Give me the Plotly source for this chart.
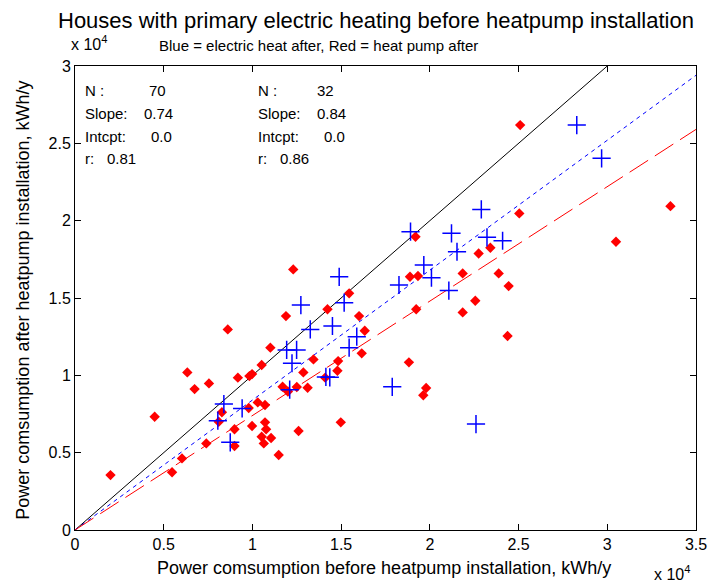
import plotly.graph_objects as go

# ---- data (kWh/y) ----
red_before = [2000, 4490, 5470, 6030, 6330, 6740, 7400, 7550, 8280, 8100, 8610, 8990, 8990, 9180,
              9790, 9830, 9980, 9980, 10300, 10520, 10710, 10710, 10770, 10520, 10640, 11050, 11010,
              11480, 11700, 11890, 12500, 12300, 12600, 12870, 13110, 13440, 14100, 14230, 14790,
              14830, 14980, 15450, 16010, 16160, 16330, 18820, 18880, 19190, 19230, 19330, 19630,
              19790, 21850, 21850, 22560, 22750, 23410, 23880, 24380, 24440, 25040, 25090, 30490,
              33560, 12000]
red_after = [3550, 7320, 3730, 4630, 10190, 9110, 5600, 9480, 7610, 7000, 12970, 6510, 5430, 9850,
             7890, 9950, 10080, 6720, 8250, 10670, 8080, 6960, 6510, 6030, 5600, 5950, 11790,
             4850, 9260, 13830, 9250, 16850, 6400, 10190, 9200, 11030, 9850, 14270, 10300,
             10920, 6960, 15300, 13830, 11420, 12880, 10840, 16370, 18960, 14270, 16420, 8710,
             9180, 16590, 14070, 14820, 17880, 18250, 16590, 12540, 15770, 20470, 26180, 18640,
             20940, 8950]

blue_before = [8050, 8390, 8750, 9420, 11930, 12100, 12230, 12490, 12730, 13260, 14140, 14360,
               14510, 14890, 15170, 15450, 15880, 17880, 18260, 18910, 19660, 20090, 21070,
               21220, 21530, 22600, 22900, 23220, 24100, 28280, 29680]
blue_after = [7070, 8140, 5670, 7860, 11640, 9070, 10780, 11640, 14540, 12970, 9900, 9870,
              13190, 16370, 14700, 11790, 12500, 9260, 15840, 19290, 17130, 16310, 15480,
              19180, 17990, 6850, 20730, 18920, 18700, 26180, 24030]

slopes = {"ref": 1.0, "blue": 0.84, "red": 0.74}
x_max = 35000
y_max = 30000

x_ticks = [0, 5000, 10000, 15000, 20000, 25000, 30000, 35000]
x_tick_text = ["0", "0.5", "1", "1.5", "2", "2.5", "3", "3.5"]
y_ticks = [0, 5000, 10000, 15000, 20000, 25000, 30000]
y_tick_text = ["0", "0.5", "1", "1.5", "2", "2.5", "3"]

stat_labels = ["N :", "Slope:", "Intcpt:", "r:"]
stats_red = ["70", "0.74", "0.0", "0.81"]
stats_blue = ["32", "0.84", "0.0", "0.86"]

title = "Houses with primary electric heating before heatpump installation"
subtitle = "Blue = electric heat after, Red = heat pump after"
x_title = "Power comsumption before heatpump installation, kWh/y"
y_title = "Power comsumption after heatpump installation, kWh/y"

FONT = "Liberation Sans, Arial, sans-serif"

fig = go.Figure()

fig.add_trace(go.Scatter(x=[0, y_max / slopes["ref"]], y=[0, y_max], mode="lines",
                         line=dict(color="black", width=1), hoverinfo="skip"))
fig.add_trace(go.Scatter(x=[0, x_max], y=[0, slopes["blue"] * x_max], mode="lines",
                         line=dict(color="blue", width=1, dash="4px,4px"), hoverinfo="skip"))
fig.add_trace(go.Scatter(x=[0, x_max], y=[0, slopes["red"] * x_max], mode="lines",
                         line=dict(color="red", width=1, dash="22px,8px"), hoverinfo="skip"))

fig.add_trace(go.Scatter(x=red_before, y=red_after, mode="markers",
                         marker=dict(symbol="diamond", size=8, color="red",
                                     line=dict(width=0))))
fig.add_trace(go.Scatter(x=blue_before, y=blue_after, mode="markers",
                         marker=dict(symbol="cross-thin", size=13,
                                     line=dict(width=1.5, color="blue"))))

L, R, T, B = 75, 15, 66, 53
W, H = 719, 583
pw, ph = W - L - R, H - T - B


def px(x):
    return (x - L) / pw


def py(y):
    return (H - B - y) / ph


def text_ann(x, y, text, size, anchor="left", angle=0):
    return dict(x=px(x), y=py(y), xref="paper", yref="paper", text=text,
                showarrow=False, xanchor=anchor, yanchor="middle", textangle=angle,
                font=dict(size=size, color="black", family=FONT))


ann = []
rows_y = [90, 113, 136, 158]
red_val_x = [148, 143, 150, 105]
blue_val_x = [318, 318, 325, 281]
for i in range(4):
    ann.append(text_ann(83, rows_y[i], stat_labels[i], 15))
    ann.append(text_ann(red_val_x[i], rows_y[i], stats_red[i], 15))
    ann.append(text_ann(258, rows_y[i], stat_labels[i], 15))
    ann.append(text_ann(blue_val_x[i], rows_y[i], stats_blue[i], 15))

ann.append(text_ann(380, 20, title, 22, anchor="center"))
ann.append(text_ann(322, 46, subtitle, 15, anchor="center"))
ann.append(text_ann(69, 43, "x 10<sup>4</sup>", 16))
ann.append(text_ann(659, 573, "x 10<sup>4</sup>", 16))
ann.append(text_ann(388, 568, x_title, 18, anchor="center"))
ann.append(text_ann(22, 300, y_title, 18, anchor="center", angle=-90))

axis_common = dict(showgrid=False, zeroline=False, showline=True, linecolor="black",
                   linewidth=1, mirror="allticks", ticks="inside", ticklen=6,
                   tickcolor="black", tickwidth=1,
                   tickfont=dict(size=16, color="black", family=FONT))

fig.update_layout(
    width=W, height=H, autosize=False,
    margin=dict(l=L, r=R, t=T, b=B),
    paper_bgcolor="white", plot_bgcolor="white",
    showlegend=False,
    annotations=ann,
    xaxis=dict(range=[0, x_max], tickvals=x_ticks, ticktext=x_tick_text, **axis_common),
    yaxis=dict(range=[0, y_max], tickvals=y_ticks, ticktext=y_tick_text, **axis_common),
)

fig.write_html("out.html",
               config={"responsive": False, "displayModeBar": False},
               post_script="document.body.style.margin='0';document.body.style.overflow='hidden';")
